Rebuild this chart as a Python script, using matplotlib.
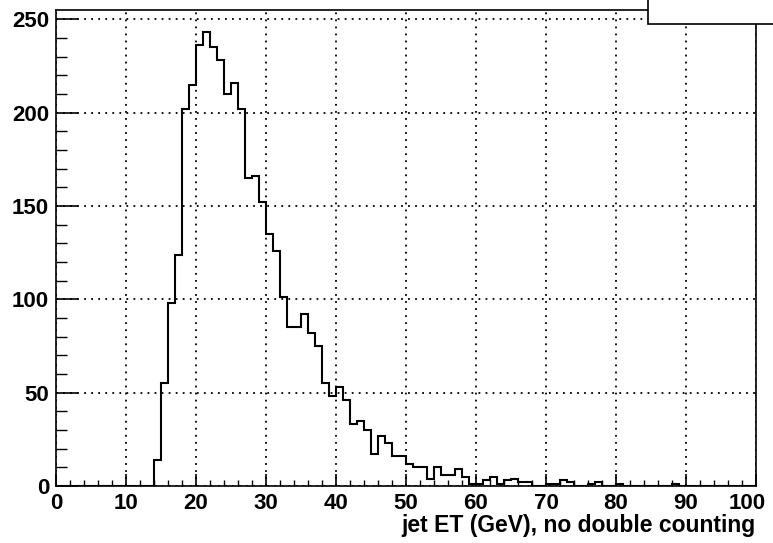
import numpy as np
import matplotlib
matplotlib.use("Agg")
import matplotlib.pyplot as plt
import matplotlib.transforms as mtransforms
from matplotlib.patches import Rectangle
from matplotlib.ticker import MultipleLocator

# jet ET histogram, 1 GeV bins from 0 to 100
bin_edges = np.arange(0, 101, 1)
counts = [
    0, 0, 0, 0, 0, 0, 0, 0, 0, 0,
    0, 0, 0, 0, 14, 55, 98, 124, 202, 215,
    236, 243, 235, 228, 210, 216, 202, 165, 166, 152,
    135, 126, 101, 85, 85, 92, 82, 75, 55, 48,
    53, 46, 33, 35, 30, 17, 27, 23, 16, 16,
    12, 10, 10, 4, 10, 6, 6, 9, 5, 1,
    1, 3, 5, 1, 3, 4, 2, 2, 0, 0,
    1, 1, 3, 2, 0, 0, 1, 2, 0, 0,
    1, 0, 0, 0, 0, 0, 0, 0, 1, 0,
    0, 0, 0, 0, 0, 0, 0, 0, 0, 0,
]
x_ticks = [0, 10, 20, 30, 40, 50, 60, 70, 80, 90, 100]
y_ticks = [0, 50, 100, 150, 200, 250]
x_title = "jet ET (GeV), no double counting"

plt.rcParams['font.family'] = ['Liberation Sans', 'DejaVu Sans']
plt.rcParams['font.weight'] = 'bold'

fig = plt.figure(figsize=(7.73, 5.43), dpi=100)
ax = fig.add_axes([56/773, 1 - 486/543, 700/773, 476/543])

ax.stairs(counts, bin_edges, color='black', linewidth=1.5)

ax.set_xlim(0, 100)
ax.set_ylim(0, 255)
ax.set_xticks(x_ticks)
ax.set_yticks(y_ticks)
ax.xaxis.set_minor_locator(MultipleLocator(2))
ax.yaxis.set_minor_locator(MultipleLocator(10))
ax.tick_params(which='both', direction='in', top=False, right=False, labelsize=16)
ax.tick_params(axis='x', which='major', length=9, width=1.2, pad=5)
ax.tick_params(axis='x', which='minor', length=4.5, width=1.0)
ax.tick_params(axis='y', which='major', length=16, width=1.2, pad=5)
ax.tick_params(axis='y', which='minor', length=8, width=1.0)
for lbl in ax.get_xticklabels() + ax.get_yticklabels():
    lbl.set_fontweight('bold')

# keep the last x label inside the canvas, like ROOT does
last = ax.get_xticklabels()[-1]
last.set_transform(last.get_transform() +
                   mtransforms.ScaledTranslation(-9/100, 0, fig.dpi_scale_trans))

ax.grid(True, which='major', color='black', linestyle=(0, (1, 2.9)), linewidth=1.3)
for sp in ax.spines.values():
    sp.set_linewidth(1.2)

ax.set_xlabel(x_title, fontsize=16.5, fontweight='bold', loc='right', labelpad=0)

# partially visible stats box in the top right corner
fig.add_artist(Rectangle((648/773, 1 - 24/543), 130/773, 30/543,
                         transform=fig.transFigure, facecolor='white',
                         edgecolor='black', linewidth=1.2, zorder=10))

fig.savefig("out.png", dpi=100)
